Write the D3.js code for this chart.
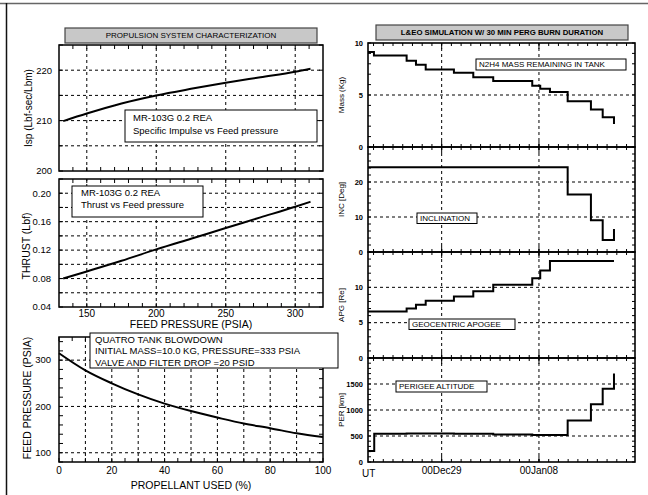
<!DOCTYPE html>
<html>
<head>
<meta charset="utf-8">
<script src="https://cdn.jsdelivr.net/npm/d3@7"></script>
<style>
  body { margin: 0; background: #fff; }
  svg { display: block; font-family: "Liberation Sans", Arial, sans-serif; }
</style>
</head>
<body>
<div id="chart"></div>
<script>
'use strict';

// Left column: engine characterization
const feedPressure = [133, 150, 175, 200, 225, 250, 275, 300, 311];
const ispValues = [209.9, 211.4, 213.4, 215.0, 216.3, 217.5, 218.6, 219.7, 220.3];
const thrustValues = [0.080, 0.090, 0.105, 0.121, 0.136, 0.151, 0.166, 0.181, 0.188];

const propellantUsed = [0, 10, 20, 30, 40, 50, 60, 70, 80, 90, 100];
const blowdownPressure = [315, 278, 250, 226, 206, 190, 176, 163, 153, 142, 134];

// Right column: step histories, days relative to 00Dec29
const massDays = [-7.57, -6.96, -3.6, -2.64, -1.64, 1.26, 3.25, 5.3, 9.31, 10.13, 11.13, 12.95, 15.34, 16.55, 17.71];
const massValues = [9.13, 8.8, 8.3, 7.9, 7.45, 7.13, 6.7, 6.34, 5.9, 5.6, 5.3, 4.4, 3.6, 2.85, 2.2];

const incDays = [-7.57, 12.95, 15.34, 16.55, 17.71];
const incValues = [24.2, 16.4, 9.1, 3.4, 6.6];

const apgDays = [-7.57, -3.6, -2.64, -1.64, 1.26, 3.25, 5.3, 9.31, 10.13, 11.13, 17.71];
const apgValues = [6.57, 7.0, 7.53, 8.1, 8.71, 9.43, 10.38, 11.29, 12.39, 13.71, 13.71];

const perDays = [-7.57, -6.93, -3.6, 1.26, 5.3, 9.31, 12.95, 15.34, 16.55, 17.71];
const perValues = [213, 545, 548, 542, 530, 520, 800, 1110, 1410, 1700];

const timeLabels = ['00Dec29', '00Jan08'];

const W = 648, H = 495;
const DAY = 864e5;
const base = Date.UTC(2000, 11, 29);
const toDate = d => new Date(base + d * DAY);

const svg = d3.select('#chart').append('svg')
  .attr('width', W)
  .attr('height', H);

// page border
svg.append('line').attr('x1', 0).attr('x2', W).attr('y1', 3.5).attr('y2', 3.5)
  .attr('stroke', '#666').attr('stroke-width', 1.5);
svg.append('line').attr('x1', 6.5).attr('x2', 6.5).attr('y1', 3).attr('y2', H)
  .attr('stroke', '#111').attr('stroke-width', 1.5);

function grid(g, x, y, xs, ys) {
  const r = x.range(), t = y.range();
  g.selectAll(null).data(xs).enter().append('line')
    .attr('x1', d => x(d)).attr('x2', d => x(d))
    .attr('y1', t[0]).attr('y2', t[1])
    .attr('stroke', '#000').attr('stroke-width', 1).attr('stroke-dasharray', '3,3');
  g.selectAll(null).data(ys).enter().append('line')
    .attr('x1', r[0]).attr('x2', r[1])
    .attr('y1', d => y(d)).attr('y2', d => y(d))
    .attr('stroke', '#000').attr('stroke-width', 1).attr('stroke-dasharray', '3,3');
}

// inward ticks on all four sides
function ticks(g, x, y, xs, ys, len) {
  const r = x.range(), t = y.range();
  xs.forEach(v => {
    g.append('line').attr('x1', x(v)).attr('x2', x(v)).attr('y1', t[0]).attr('y2', t[0] - len)
      .attr('stroke', '#000').attr('stroke-width', 1);
    g.append('line').attr('x1', x(v)).attr('x2', x(v)).attr('y1', t[1]).attr('y2', t[1] + len)
      .attr('stroke', '#000').attr('stroke-width', 1);
  });
  ys.forEach(v => {
    g.append('line').attr('x1', r[0]).attr('x2', r[0] + len).attr('y1', y(v)).attr('y2', y(v))
      .attr('stroke', '#000').attr('stroke-width', 1);
    g.append('line').attr('x1', r[1]).attr('x2', r[1] - len).attr('y1', y(v)).attr('y2', y(v))
      .attr('stroke', '#000').attr('stroke-width', 1);
  });
}

function frame(g, x, y, w) {
  const r = x.range(), t = y.range();
  g.append('rect')
    .attr('x', r[0]).attr('y', t[1])
    .attr('width', r[1] - r[0]).attr('height', t[0] - t[1])
    .attr('fill', 'none').attr('stroke', '#000').attr('stroke-width', w);
}

function curve(g, x, y, xs, ys, c) {
  const pts = xs.map((v, i) => [v, ys[i]]);
  g.append('path')
    .attr('d', d3.line().x(d => x(d[0])).y(d => y(d[1])).curve(c)(pts))
    .attr('fill', 'none').attr('stroke', '#000').attr('stroke-width', 2);
}

function yLabels(g, y, vals, fmt, xPos, size, weight) {
  g.selectAll(null).data(vals).enter().append('text')
    .attr('x', xPos).attr('y', d => y(d))
    .attr('dy', '0.35em').attr('text-anchor', 'end')
    .attr('font-size', size).attr('font-weight', weight || 'normal')
    .text(fmt);
}

function yTitle(g, text, cx, cy, size) {
  g.append('text')
    .attr('transform', 'translate(' + cx + ',' + cy + ') rotate(-90)')
    .attr('text-anchor', 'middle').attr('dy', '0.35em')
    .attr('font-size', size).text(text);
}

function textBox(g, x0, y0, w, h, lines, size, lh, pad) {
  g.append('rect').attr('x', x0).attr('y', y0).attr('width', w).attr('height', h)
    .attr('fill', '#fff').attr('stroke', '#000').attr('stroke-width', 1);
  lines.forEach((s, i) => {
    g.append('text').attr('x', x0 + pad).attr('y', y0 + lh * (i + 1) - 2)
      .attr('font-size', size).text(s);
  });
}

function titleBox(g, x0, y0, w, h, text, size, weight) {
  g.append('rect').attr('x', x0).attr('y', y0).attr('width', w).attr('height', h)
    .attr('fill', '#c8c8c8').attr('stroke', '#444').attr('stroke-width', 1.2);
  g.append('text').attr('x', x0 + w / 2).attr('y', y0 + h / 2).attr('dy', '0.35em')
    .attr('text-anchor', 'middle').attr('font-size', size).attr('font-weight', weight)
    .text(text);
}

// ---------- left column ----------
const left = svg.append('g');
const xP = d3.scaleLinear().domain([130, 320]).range([59, 323]);

titleBox(left, 65, 28, 252, 15, 'PROPULSION SYSTEM CHARACTERIZATION', 8, 'normal');

// Isp
const yIsp = d3.scaleLinear().domain([200, 225]).range([171, 45]);
grid(left, xP, yIsp, [150, 200, 250, 300], [205, 210, 215, 220]);
ticks(left, xP, yIsp, d3.range(140, 320, 10), d3.range(200, 226, 5), 4);
curve(left, xP, yIsp, feedPressure, ispValues, d3.curveMonotoneX);
frame(left, xP, yIsp, 1.5);
yLabels(left, yIsp, [200, 210, 220], d => d, 52, 9.5);
yTitle(left, 'Isp (Lbf-sec/Lbm)', 28, 108, 10);
textBox(left, 125, 110, 192, 32, ['MR-103G 0.2 REA', 'Specific Impulse vs Feed pressure'], 9.5, 13, 8);

// Thrust
const yThr = d3.scaleLinear().domain([0.04, 0.22]).range([307, 179]);
grid(left, xP, yThr, [150, 200, 250, 300], d3.range(0.06, 0.215, 0.02));
ticks(left, xP, yThr, d3.range(140, 320, 10), d3.range(0.04, 0.221, 0.02), 4);
curve(left, xP, yThr, feedPressure, thrustValues, d3.curveMonotoneX);
frame(left, xP, yThr, 1.5);
yLabels(left, yThr, [0.04, 0.08, 0.12, 0.16, 0.20], d3.format('.2f'), 51, 9.5);
yTitle(left, 'THRUST (Lbf)', 26, 246, 10.5);
textBox(left, 72, 186, 131, 31, ['MR-103G 0.2 REA', 'Thrust vs Feed pressure'], 9.5, 12, 9);

left.selectAll(null).data([150, 200, 250, 300]).enter().append('text')
  .attr('x', d => xP(d)).attr('y', 317).attr('text-anchor', 'middle')
  .attr('font-size', 10).text(d => d);
left.append('text').attr('x', 191).attr('y', 328).attr('text-anchor', 'middle')
  .attr('font-size', 10.5).text('FEED PRESSURE (PSIA)');

// Blowdown
const xU = d3.scaleLinear().domain([0, 100]).range([59, 323]);
const yFd = d3.scaleLinear().domain([80, 350]).range([462, 337]);
grid(left, xU, yFd, d3.range(10, 100, 10), [100, 200, 300]);
ticks(left, xU, yFd, d3.range(0, 101, 5), d3.range(80, 351, 20), 4);
curve(left, xU, yFd, propellantUsed, blowdownPressure, d3.curveMonotoneX);
frame(left, xU, yFd, 1.5);
yLabels(left, yFd, [100, 200, 300], d => d, 51, 9.5);
yTitle(left, 'FEED PRESSURE (PSIA)', 27, 398, 10.5);
textBox(left, 90, 333, 248, 35,
  ['QUATRO TANK BLOWDOWN', 'INITIAL MASS=10.0 KG, PRESSURE=333 PSIA', 'VALVE AND FILTER DROP =20 PSID'],
  9.5, 11.5, 5);

left.selectAll(null).data(d3.range(0, 101, 20)).enter().append('text')
  .attr('x', d => xU(d)).attr('y', 474).attr('text-anchor', 'middle')
  .attr('font-size', 10).text(d => d);
left.append('text').attr('x', 191).attr('y', 489).attr('text-anchor', 'middle')
  .attr('font-size', 10.5).text('PROPELLANT USED (%)');

// ---------- right column ----------
const right = svg.append('g');
const xT = d3.scaleUtc().domain([toDate(-7.57), toDate(19.87)]).range([368, 635]);
const gridDates = timeLabels.map((s, i) => toDate(i * 10));
const dayTicks = d3.utcDay.range(toDate(-7.57), toDate(19.87));

titleBox(right, 376, 25, 252, 15, 'L&EO SIMULATION W/ 30 MIN PERG BURN DURATION', 7.8, 'bold');

const panels = [
  { days: massDays, vals: massValues, dom: [0, 10], top: 43, bot: 147, grid: [5], minor: 1,
    labels: [0, 5, 10], title: 'Mass (Kg)', box: [476, 59, 150, 11, 'N2H4 MASS REMAINING IN TANK'] },
  { days: incDays, vals: incValues, dom: [0, 30], top: 147, bot: 252, grid: [10, 20], minor: 2,
    labels: [0, 10, 20], title: 'INC [Deg]', box: [417, 213, 60, 10.5, 'INCLINATION'] },
  { days: apgDays, vals: apgValues, dom: [0, 15], top: 252, bot: 358, grid: [5, 10], minor: 1,
    labels: [0, 5, 10], title: 'APG [Re]', box: [409, 319, 106, 10.5, 'GEOCENTRIC APOGEE'] },
  { days: perDays, vals: perValues, dom: [0, 2000], top: 358, bot: 462, grid: [500, 1000, 1500], minor: 100,
    labels: [0, 500, 1000, 1500], title: 'PER [km]', box: [396, 381, 91, 11, 'PERIGEE ALTITUDE'] }
];

panels.forEach(p => {
  const y = d3.scaleLinear().domain(p.dom).range([p.bot, p.top]);
  grid(right, xT, y, gridDates, p.grid);
  ticks(right, xT, y, dayTicks, d3.range(p.dom[0], p.dom[1] + 0.001, p.minor), 3);
  // longer ticks at the labelled dates
  ticks(right, xT, y, gridDates, [], 6);
  curve(right, xT, y, p.days.map(toDate), p.vals, d3.curveStepAfter);
  frame(right, xT, y, 1.6);
  yLabels(right, y, p.labels, d => d, 363, 7.5, 'bold');
  yTitle(right, p.title, 341, (p.top + p.bot) / 2, 8);
  const b = p.box;
  right.append('rect').attr('x', b[0]).attr('y', b[1]).attr('width', b[2]).attr('height', b[3])
    .attr('fill', '#fff').attr('stroke', '#000').attr('stroke-width', 1);
  right.append('text').attr('x', b[0] + 3).attr('y', b[1] + b[3] / 2).attr('dy', '0.35em')
    .attr('font-size', 8).text(b[4]);
});

right.append('text').attr('x', 362).attr('y', 477).attr('font-size', 10).text('UT');
right.selectAll(null).data(gridDates).enter().append('text')
  .attr('x', d => xT(d)).attr('y', 474).attr('text-anchor', 'middle')
  .attr('font-size', 10).text((d, i) => timeLabels[i]);
</script>
</body>
</html>
